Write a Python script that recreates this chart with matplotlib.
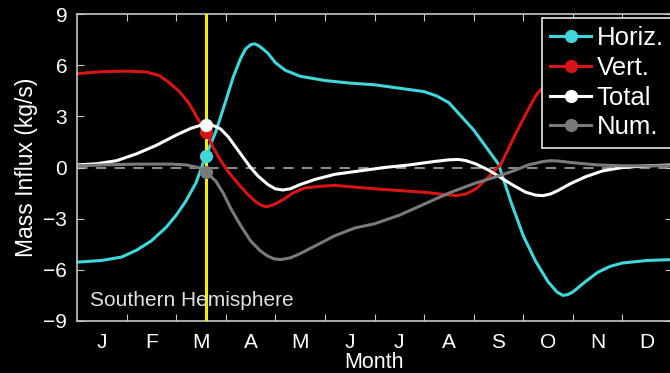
import matplotlib
matplotlib.use("Agg")
from matplotlib import pyplot as plt
from matplotlib.lines import Line2D

# months since 1 Jan, values in kg/s
HORIZ_X = [0.0, 0.5, 0.9, 1.2, 1.5, 1.8, 2.0, 2.2, 2.4, 2.6, 2.8, 3.0, 3.15, 3.3, 3.4, 3.5, 3.58, 3.66, 3.75,
           3.85, 4.0, 4.2, 4.5, 5.0, 5.5, 6.0, 6.5, 7.0, 7.25, 7.5, 7.75, 8.0, 8.25, 8.5, 8.75, 9.0, 9.25,
           9.5, 9.68, 9.8, 9.9, 10.0, 10.25, 10.5, 10.75, 11.0, 11.5, 12.0]
HORIZ_Y = [-5.55, -5.45, -5.25, -4.85, -4.3, -3.5, -2.8, -1.95, -0.9, 0.7, 2.1, 3.9, 5.3, 6.4, 6.95, 7.2, 7.25,
           7.15, 6.95, 6.7, 6.15, 5.7, 5.35, 5.1, 4.95, 4.85, 4.65, 4.45, 4.2, 3.8, 3.0, 2.2, 1.2, 0.2, -2.0,
           -4.0, -5.5, -6.7, -7.3, -7.5, -7.45, -7.3, -6.7, -6.15, -5.8, -5.6, -5.45, -5.4]

VERT_X = [0.0, 0.5, 1.0, 1.4, 1.65, 1.85, 2.05, 2.25, 2.45, 2.6, 2.75, 2.9, 3.05, 3.25, 3.45, 3.6, 3.72, 3.82,
          3.95, 4.15, 4.35, 4.6, 4.9, 5.2, 5.6, 6.0, 6.5, 7.0, 7.4, 7.65, 7.85, 8.05, 8.3, 8.55, 8.85, 9.1,
          9.25, 9.45, 9.7, 10.0, 10.5, 11.0, 12.0]
VERT_Y = [5.5, 5.62, 5.65, 5.6, 5.4, 5.0, 4.5, 3.8, 2.8, 2.1, 1.15, 0.4, -0.25, -0.95, -1.6, -2.0, -2.22, -2.3,
          -2.2, -1.9, -1.5, -1.2, -1.1, -1.05, -1.15, -1.25, -1.35, -1.45, -1.58, -1.65, -1.55, -1.25, -0.55,
          0.2, 2.0, 3.4, 4.2, 4.9, 5.3, 5.45, 5.5, 5.5, 5.5]

TOTAL_X = [0.0, 0.4, 0.8, 1.2, 1.6, 2.0, 2.3, 2.5, 2.6, 2.7, 2.8, 2.9, 3.05, 3.2, 3.35, 3.5, 3.65, 3.85, 4.0,
           4.15, 4.3, 4.5, 4.8, 5.2, 5.7, 6.2, 6.7, 7.2, 7.5, 7.7, 7.85, 8.05, 8.3, 8.55, 8.8, 9.05, 9.25,
           9.4, 9.55, 9.7, 9.95, 10.25, 10.6, 11.0, 11.5, 12.0]
TOTAL_Y = [0.15, 0.22, 0.4, 0.8, 1.3, 1.9, 2.3, 2.48, 2.52, 2.5, 2.4, 2.25, 1.8, 1.2, 0.6, 0.0, -0.5, -1.0,
           -1.25, -1.32, -1.25, -1.0, -0.7, -0.4, -0.2, 0.0, 0.15, 0.35, 0.45, 0.47, 0.4, 0.2, -0.15, -0.6,
           -1.05, -1.45, -1.62, -1.65, -1.55, -1.35, -0.95, -0.55, -0.2, 0.0, 0.1, 0.15]

NUM_X = [0.0, 0.5, 1.2, 1.9, 2.2, 2.45, 2.6, 2.8, 2.95, 3.1, 3.3, 3.5, 3.7, 3.85, 3.97, 4.1, 4.3, 4.5, 4.8,
         5.2, 5.6, 6.0, 6.5, 7.0, 7.5, 8.0, 8.5, 8.8, 9.1, 9.4, 9.55, 9.7, 10.0, 10.5, 11.0, 12.0]
NUM_Y = [0.1, 0.15, 0.2, 0.2, 0.15, 0.0, -0.25, -0.8, -1.5, -2.4, -3.4, -4.3, -4.9, -5.2, -5.35, -5.4, -5.3,
         -5.05, -4.6, -4.0, -3.55, -3.3, -2.8, -2.15, -1.5, -0.95, -0.5, -0.2, 0.15, 0.35, 0.4, 0.38, 0.28,
         0.15, 0.1, 0.1]

NOW_MONTH = 2.6
NOW_VALUES = [0.7, 2.1, 2.5, -0.25]  # Horiz, Vert, Total, Num

LABELS = ["Horiz.", "Vert.", "Total", "Num."]
COLORS = ["#3fd7dc", "#d81414", "#ffffff", "#7a7a7a"]
MONTHS = ["J", "F", "M", "A", "M", "J", "J", "A", "S", "O", "N", "D"]
YTICKS = [-9, -6, -3, 0, 3, 6, 9]

FONT = "Liberation Sans"
SPINE = "#c8c8c8"

fig = plt.figure(figsize=(6.70, 3.73), dpi=100, facecolor="black")
ax = fig.add_axes([77 / 670, 52 / 373, 595 / 670, 307 / 373], facecolor="black")

ax.axhline(0, color="#8a8a8a", lw=1.5, ls=(0, (5, 4)), zorder=1)

series = [(HORIZ_X, HORIZ_Y), (VERT_X, VERT_Y), (TOTAL_X, TOTAL_Y), (NUM_X, NUM_Y)]
for (xs, ys), c in zip(series, COLORS):
    ax.plot(xs, ys, color=c, lw=2.2, solid_capstyle="round", solid_joinstyle="round", zorder=2)

ax.axvline(NOW_MONTH, color="#f0f000", lw=2.2, zorder=3)

for v, c in zip(NOW_VALUES, COLORS):
    ax.plot([NOW_MONTH], [v], "o", color=c, ms=8.5, mec=c, zorder=4)

ax.set_xlim(0, 12)
ax.set_ylim(-9, 9)

ax.set_xticks(range(1, 12))
ax.set_xticklabels([])
ax.set_xticks([i + 0.5 for i in range(12)], minor=True)
ax.set_xticklabels(MONTHS, minor=True, fontname=FONT, fontsize=15, color="white")
ax.tick_params(axis="x", which="minor", length=0, pad=9)
ax.tick_params(axis="x", which="major", direction="in", length=5, color=SPINE, top=True, bottom=True)

ax.set_yticks(YTICKS)
ax.set_yticklabels([str(t).replace("-", "\u2212") for t in YTICKS], fontname=FONT, fontsize=15, color="white")
ax.tick_params(axis="y", direction="in", length=5, color=SPINE, left=True, right=True, pad=7)

for s in ax.spines.values():
    s.set_color(SPINE)
    s.set_linewidth(1.2)

ax.set_xlabel("Month", fontname=FONT, fontsize=15.5, color="white", labelpad=0)
ax.set_ylabel("Mass Influx (kg/s)", fontname=FONT, fontsize=16.5, color="white", labelpad=4)

ax.text(13 / 595, 21 / 307, "Southern Hemisphere", transform=ax.transAxes, fontname=FONT,
        fontsize=15, color="#e0e0e0", va="center", ha="left")

handles = [Line2D([], [], color=c, lw=2.2, marker="o", ms=8.5, mec=c) for c in COLORS]
leg = ax.legend(handles, LABELS, loc="upper right", bbox_to_anchor=(672 / 670, 1 - 18 / 373),
                bbox_transform=fig.transFigure, borderaxespad=0, numpoints=1, handlelength=1.6,
                handletextpad=0.2, labelspacing=0.22, borderpad=0.33, fancybox=False,
                prop={"family": FONT, "size": 18.5}, framealpha=1)
leg.get_frame().set_facecolor("black")
leg.get_frame().set_edgecolor("#e8e8e8")
leg.get_frame().set_linewidth(1.2)
for t in leg.get_texts():
    t.set_color("white")
leg.set_zorder(5)

fig.savefig("out.png", dpi=100, facecolor="black")
